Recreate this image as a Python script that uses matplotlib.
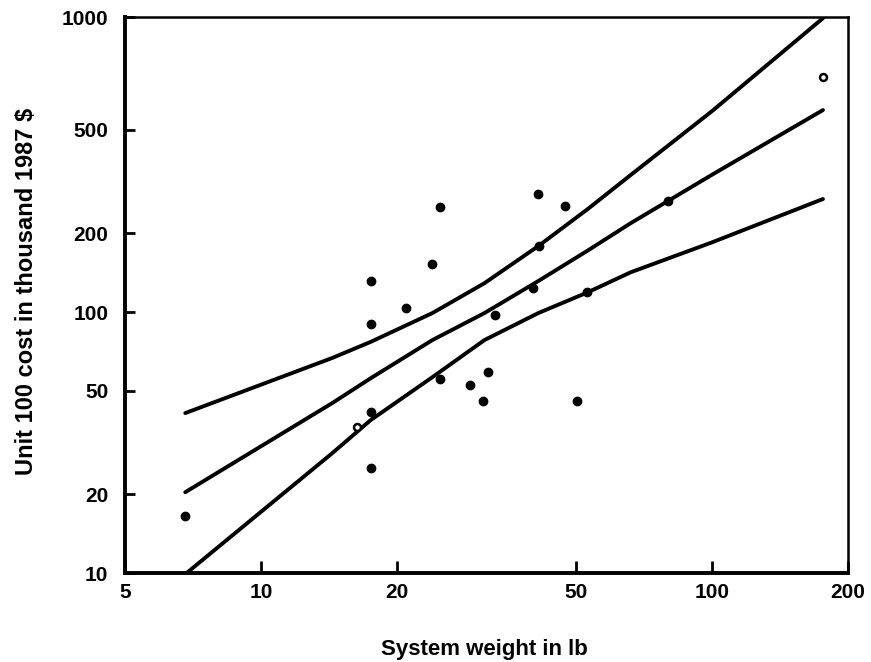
import matplotlib
matplotlib.use("Agg")
import matplotlib.pyplot as plt

plt.rcParams['font.family'] = ['Liberation Sans', 'DejaVu Sans']

# system weight (lb) and unit 100 cost (thousand 1987 $)
weight = [6.8, 25.0, 41.2, 47.1, 24.0, 17.5, 21.0, 17.5, 41.4, 40.0, 33.1,
          52.8, 24.9, 29.0, 31.9, 31.0, 50.2, 17.5, 17.5, 80.0]
cost = [16.5, 252, 283, 255, 153, 131, 103.6, 90, 179, 124, 97.4,
        119, 55.4, 52.5, 58.9, 45.6, 45.6, 41.4, 25.2, 266]
# the two points drawn as open rings
ring_weight = [16.3, 176]
ring_cost = [36.2, 795]

# regression line and its bands
fit_x = [6.8, 14.4, 17.5, 24, 31.3, 41.2, 53, 66, 100, 176]
fit_mid = [20.4, 44.8, 55.7, 78.1, 99.1, 131.5, 172, 219, 336, 594]
fit_hi = [41.0, 66.7, 76.8, 99.1, 129, 179, 248, 335, 589, 1336]
fit_lo = [9.9, 28.8, 38.5, 56.3, 78.1, 99.1, 119, 142, 185, 271]

x_ticks = [5, 10, 20, 50, 100, 200]
y_ticks = [10, 20, 50, 100, 200, 500]
y_top = 1350

fig = plt.figure(figsize=(8.71, 6.62), dpi=100)
ax = fig.add_axes([0.1435, 0.1344, 0.8301, 0.8399])

for yy in (fit_hi, fit_mid, fit_lo):
    ax.plot(fit_x, yy, color='black', lw=2.8, solid_capstyle='round',
            solid_joinstyle='round')

ax.plot(weight, cost, 'o', color='black', ms=6)
ax.plot(ring_weight, ring_cost, 'o', mfc='white', mec='black', mew=1.8, ms=5)

ax.set_xscale('log')
ax.set_yscale('log')
ax.set_xlim(5, 200)
ax.set_ylim(10, y_top)

ax.set_xticks(x_ticks)
ax.set_xticklabels([str(v) for v in x_ticks], fontweight='bold')
ax.set_yticks(y_ticks + [y_top])
ax.set_yticklabels([str(v) for v in y_ticks] + ['1000'], fontweight='bold')
ax.minorticks_off()

ax.tick_params(axis='x', direction='in', length=9, width=2, labelsize=15, pad=7)
ax.tick_params(axis='y', direction='in', length=7, width=2, labelsize=15, pad=12)

for side in ('left', 'bottom'):
    ax.spines[side].set_linewidth(2.8)
for side in ('top', 'right'):
    ax.spines[side].set_linewidth(1.8)

fig.text(0.556, 0.0106, 'System weight in lb', ha='center', va='baseline',
         fontsize=16, fontweight='bold')
fig.text(0.030, 0.5597, 'Unit 100 cost in thousand 1987 $', ha='center', va='center',
         rotation=90, fontsize=17, fontweight='bold')

fig.savefig('out.png', dpi=100)
